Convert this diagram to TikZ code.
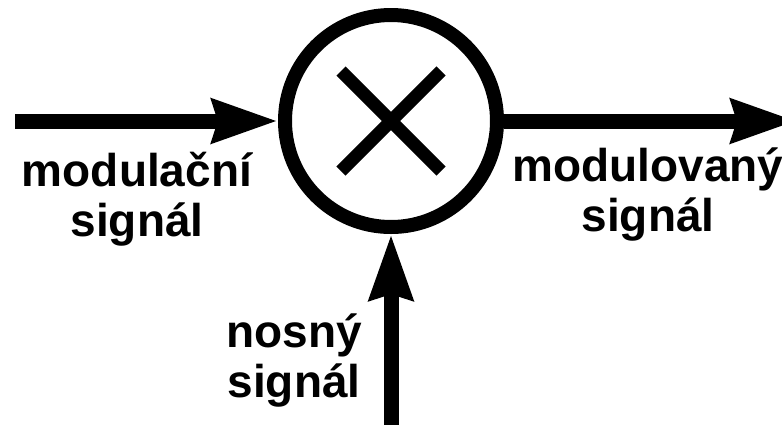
\documentclass[tikz,border=0pt]{standalone}
\usepackage{fontspec}
\setmainfont{Liberation Sans}
\usetikzlibrary{arrows.meta,calc}

\tikzset{
  mixer/.style={draw, circle, line width=14pt, minimum size=212pt, inner sep=0pt},
  crossbar/.style={line width=13pt, line cap=butt},
  signal/.style={line width=15pt, -{Stealth[length=65pt, width=42pt, inset=5pt]}},
  % anchor=base sits on the baseline of the last line
  caption/.style={align=center, inner sep=0pt, anchor=base,
    font=\fontsize{46}{50}\selectfont\bfseries}
}

\begin{document}
\begin{tikzpicture}[x=1pt, y=-1pt]
  \useasboundingbox (0,0) rectangle (782,424);
  \clip (0,0) rectangle (782,424);

  % multiplier block
  \node[mixer] (mix) at (391,121) {};
  \draw[crossbar] ($(mix.center)+(-50,-50)$) -- ($(mix.center)+(50,50)$);
  \draw[crossbar] ($(mix.center)+(-50,50)$) -- ($(mix.center)+(50,-50)$);

  % signal paths
  \coordinate (in) at (15,121);
  \coordinate (out) at (797,121);
  \coordinate (carrier) at (391,440);
  \draw[signal] (in) -- (mix.west);
  \draw[signal] (mix.east) -- (out);
  \draw[signal] (carrier) -- (mix.south);

  % labels
  \node[caption] (lmod) at (137,236) {modulační\\signál};
  \node[caption] (lout) at (648,231) {modulovaný\\signál};
  \node[caption] (lcar) at (294,397) {nosný\\signál};
\end{tikzpicture}
\end{document}
